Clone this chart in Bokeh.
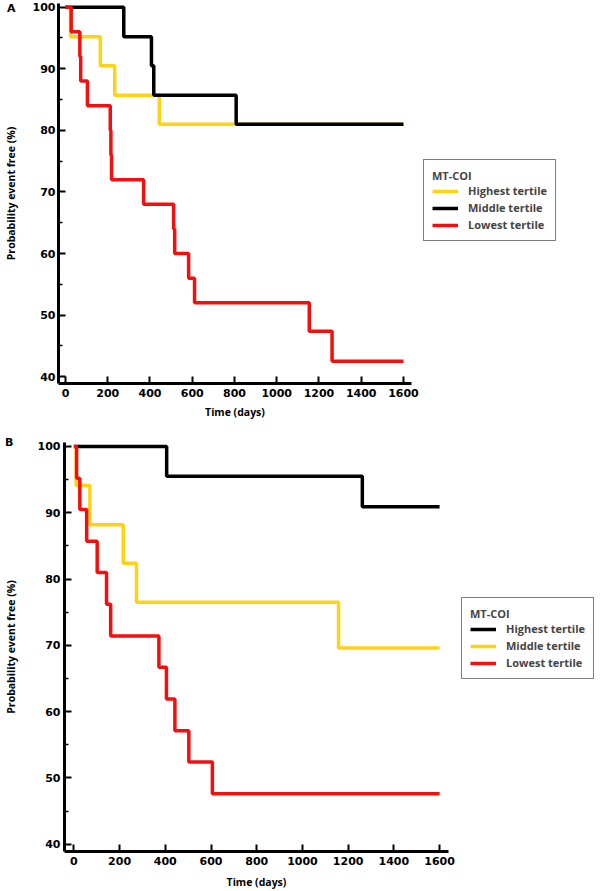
from bokeh.plotting import figure
from bokeh.models import Range1d, FixedTicker, Legend, LegendItem, Div
from bokeh.embed import file_html
from bokeh.resources import INLINE

# ---------------- data ----------------
y_ticks = [40, 50, 60, 70, 80, 90, 100]
y_minor = [45, 55, 65, 75, 85, 95]
x_ticks = [0, 200, 400, 600, 800, 1000, 1200, 1400, 1600]

# Panel A
a_high_t = [0, 24, 165, 233, 444, 1600]
a_high_s = [100, 95.2, 90.5, 85.7, 81.0, 81.0]
a_mid_t = [0, 276, 407, 418, 808, 1600]
a_mid_s = [100, 95.2, 90.5, 85.7, 81.0, 81.0]
a_low_t = [0, 27, 68, 72, 104, 212, 215, 218, 370, 512, 517, 583, 611, 1154, 1262, 1600]
a_low_s = [100, 96, 92, 88, 84, 80, 76, 72, 68, 64, 60, 56, 52, 47.4, 42.5, 42.5]

# Panel B
b_high_t = [0, 406, 1262, 1600]
b_high_s = [100, 95.5, 90.9, 90.9]
b_mid_t = [0, 10, 70, 216, 274, 1158, 1600]
b_mid_s = [100, 94.1, 88.2, 82.4, 76.5, 69.6, 69.6]
b_low_t = [0, 12, 26, 56, 102, 143, 161, 372, 405, 442, 503, 606, 1600]
b_low_s = [100, 95.2, 90.5, 85.7, 81.0, 76.2, 71.4, 66.7, 61.9, 57.1, 52.4, 47.6, 47.6]

legend_title = "MT-COI"
a_labels = ["Highest tertile", "Middle tertile", "Lowest tertile"]
b_labels = ["Highest tertile", "Middle tertile", "Lowest tertile"]
panel_letters = ["A", "B"]

YELLOW = "#FFD214"
BLACK = "#000000"
RED = "#F20F0F"

TICK_FONT = "DejaVu Sans"
TEXT_FONT = "Open Sans"


def make_panel(frame_w, frame_h, left, right, top, bottom, x_start, x_end, y_end,
               tick_standoff_x, title_standoff_x, tick_standoff_y, title_standoff_y):
    p = figure(frame_width=frame_w, frame_height=frame_h,
               min_border_left=left, min_border_right=right,
               min_border_top=top, min_border_bottom=bottom,
               x_range=Range1d(x_start, x_end), y_range=Range1d(38.9, y_end),
               output_backend="svg", toolbar_location=None)
    p.outline_line_color = None
    p.xgrid.visible = False
    p.ygrid.visible = False
    p.background_fill_color = "white"
    p.border_fill_color = "white"

    for ax in (p.xaxis[0], p.yaxis[0]):
        ax.axis_line_width = 3
        ax.axis_line_color = "black"
        ax.major_tick_in = 7
        ax.major_tick_out = 0
        ax.major_tick_line_width = 2
        ax.major_label_text_font = TICK_FONT
        ax.major_label_text_font_style = "bold"
        ax.major_label_text_font_size = "11px"
        ax.major_label_text_color = "black"
        ax.axis_label_text_font = TEXT_FONT
        ax.axis_label_text_font_style = "bold"
        ax.axis_label_text_font_size = "10.5px"
        ax.axis_label_text_color = "black"

    p.xaxis.ticker = FixedTicker(ticks=x_ticks)
    p.xaxis.minor_tick_line_color = None
    p.xaxis.major_label_standoff = tick_standoff_x
    p.xaxis.axis_label = "Time (days)"
    p.xaxis.axis_label_standoff = title_standoff_x

    p.yaxis.ticker = FixedTicker(ticks=y_ticks, minor_ticks=y_minor)
    p.yaxis.minor_tick_in = 4
    p.yaxis.minor_tick_out = 0
    p.yaxis.minor_tick_line_width = 1.5
    p.yaxis.major_label_standoff = tick_standoff_y
    p.yaxis.axis_label = "Probability event free (%)"
    p.yaxis.axis_label_standoff = title_standoff_y
    return p


def style_legend(leg):
    leg.title_text_font = TEXT_FONT
    leg.title_text_font_style = "bold"
    leg.title_text_font_size = "11px"
    leg.title_standoff = 0
    leg.label_text_font = TEXT_FONT
    leg.label_text_font_style = "bold"
    leg.label_text_font_size = "11px"
    leg.label_standoff = 10
    leg.glyph_width = 26
    leg.glyph_height = 14
    leg.label_height = 14
    leg.spacing = 2
    leg.padding = 8
    leg.margin = 0
    leg.border_line_color = "black"
    leg.border_line_width = 1.5
    leg.background_fill_color = "white"
    leg.background_fill_alpha = 1.0


def letter(text, left, top):
    return Div(text=text, styles={
        "position": "absolute", "left": f"{left}px", "top": f"{top}px",
        "font-family": "DejaVu Sans", "font-weight": "bold",
        "font-size": "11px", "line-height": "11px", "color": "black",
        "margin": "0", "padding": "0"})


# ---------------- Panel A ----------------
pA = make_panel(353, 380, 53, 206, 3, 49, -33, 1638, 100.6, 5, 5, 3, 12)
rA_high = pA.step(a_high_t, a_high_s, mode="after", line_width=3.5, line_color=YELLOW)
rA_mid = pA.step(a_mid_t, a_mid_s, mode="after", line_width=3.5, line_color=BLACK)
rA_low = pA.step(a_low_t, a_low_s, mode="after", line_width=3.5, line_color=RED)
legA = Legend(items=[LegendItem(label=a_labels[0], renderers=[rA_high]),
                     LegendItem(label=a_labels[1], renderers=[rA_mid]),
                     LegendItem(label=a_labels[2], renderers=[rA_low])],
              title=legend_title, location=(12, 142))
style_legend(legA)
pA.add_layout(legA, "right")

# ---------------- Panel B ----------------
pB = make_panel(384, 409, 64, 164, 10, 40, -41, 1639, 100.6, 5, 7, 4, 17)
rB_high = pB.step(b_high_t, b_high_s, mode="after", line_width=3.5, line_color=BLACK)
rB_mid = pB.step(b_mid_t, b_mid_s, mode="after", line_width=3.5, line_color=YELLOW)
rB_low = pB.step(b_low_t, b_low_s, mode="after", line_width=3.5, line_color=RED)
legB = Legend(items=[LegendItem(label=b_labels[0], renderers=[rB_high]),
                     LegendItem(label=b_labels[1], renderers=[rB_mid]),
                     LegendItem(label=b_labels[2], renderers=[rB_low])],
              title=legend_title, location=(13, 172))
style_legend(legB)
pB.add_layout(legB, "right")

divA = letter(panel_letters[0], 7, 3)
divB = letter(panel_letters[1], 5, 437)

open("out.html", "w").write(file_html([pA, pB, divA, divB], INLINE))
